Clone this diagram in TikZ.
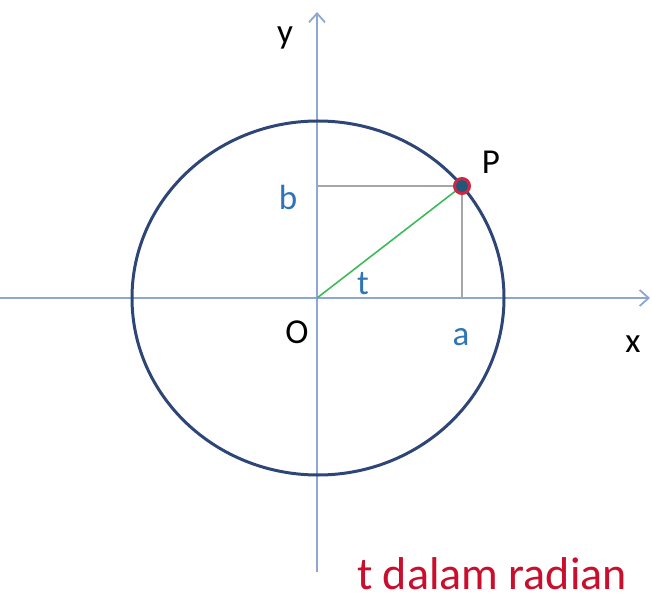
\documentclass[tikz,border=0pt]{standalone}
\usepackage{fontspec}
\setmainfont{Carlito}
\usetikzlibrary{arrows.meta}
\definecolor{axisc}{HTML}{8EA6D2}
\definecolor{circc}{HTML}{2E4677}
\definecolor{grayc}{HTML}{A6A6A6}
\definecolor{greenc}{HTML}{3DBB5A}
\definecolor{bluet}{HTML}{2E75B6}
\definecolor{redt}{HTML}{C8102E}
\begin{document}
\begin{tikzpicture}[x=1pt,y=1pt,
  axis/.style={draw=axisc,line width=2pt,-{Straight Barb[length=9pt,width=16pt,line width=1.8pt]}},
  lab/.style={font=\fontsize{35}{38}\selectfont,inner sep=0pt},
  bluelab/.style={lab,text=bluet}]
\useasboundingbox (0,0) rectangle (652,600);
\coordinate (O) at (317,302);
\coordinate (P) at (462,414);
\coordinate (xs) at (0,302);
\coordinate (xe) at (650,302);
\coordinate (ys) at (317,28);
\coordinate (ye) at (317,588);
\coordinate (Bp) at (317,414);
\coordinate (Ap) at (462,302);
\draw[axis] (xs) -- (xe);
\draw[axis] (ys) -- (ye);
\draw[circc,line width=3pt] (318,302) ellipse [x radius=186, y radius=177];
\draw[grayc,line width=2.5pt] (Bp) -- (P) -- (Ap);
\draw[greenc,line width=1.6pt] (O) -- (P);
\node[circle,fill=circc!70!teal,draw=redt!90,line width=3pt,minimum size=15pt,inner sep=0pt] (Pdot) at (P) {};
\node[lab] (ylab) at (285,562) {y};
\node[lab] (plab) at (491,438) {P};
\node[bluelab] (blab) at (288,403) {b};
\node[bluelab] (tlab) at (363,316) {t};
\node[lab] (olab) at (297,268) {O};
\node[bluelab] (alab) at (461,263) {a};
\node[lab] (xlab) at (633,256) {x};
\node[lab,text=redt,font=\fontsize{46}{50}\selectfont,anchor=base] (note) at (492,11) {t dalam radian};
\end{tikzpicture}
\end{document}
